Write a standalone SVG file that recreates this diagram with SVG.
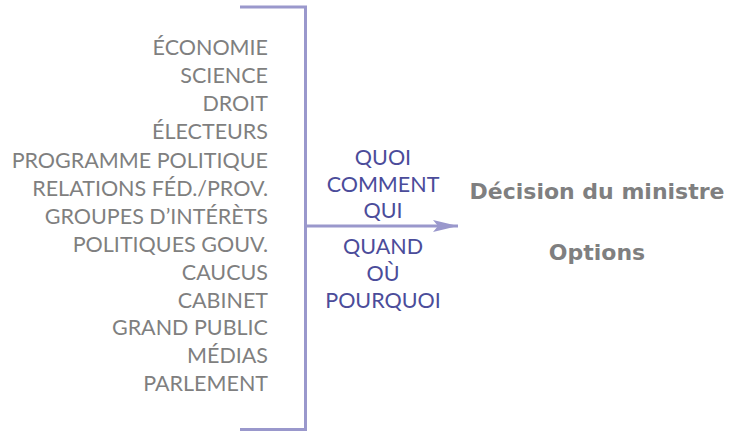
<svg xmlns="http://www.w3.org/2000/svg" width="741" height="432" viewBox="0 0 741 432">
<defs>
<style>
.l{font-family:Lato,"Liberation Sans",sans-serif;font-size:21.5px;fill:#7f7f80;text-anchor:end}
.m{font-family:Lato,"Liberation Sans",sans-serif;font-size:21.5px;fill:#4b4c9a;text-anchor:middle}
.b{font-family:"DejaVu Sans",sans-serif;font-size:22px;font-weight:bold;fill:#7f7f80;text-anchor:middle}
.ln{stroke:#9a98cc;stroke-width:3;fill:none}
</style>
<marker id="ah" markerWidth="26" markerHeight="14" refX="25" refY="7" orient="auto" markerUnits="userSpaceOnUse">
<path d="M0,1 L25,7 L0,13 L5,7 Z" fill="#9a98cc"/>
</marker>
</defs>
<rect width="741" height="432" fill="#fff"/>
<g id="connectors">
<path class="ln" d="M240,7 H305.5 V429.5 H240"/>
<line class="ln" x1="305" y1="226" x2="458" y2="226" marker-end="url(#ah)"/>
</g>
<g id="factors">
<text class="l" x="268" y="55">ÉCONOMIE</text>
<text class="l" x="268" y="83">SCIENCE</text>
<text class="l" x="268" y="111">DROIT</text>
<text class="l" x="268" y="139">ÉLECTEURS</text>
<text class="l" x="268" y="168">PROGRAMME POLITIQUE</text>
<text class="l" x="268" y="196">RELATIONS FÉD./PROV.</text>
<text class="l" x="268" y="224">GROUPES D’INTÉRÈTS</text>
<text class="l" x="268" y="252">POLITIQUES GOUV.</text>
<text class="l" x="268" y="280">CAUCUS</text>
<text class="l" x="268" y="308">CABINET</text>
<text class="l" x="268" y="335">GRAND PUBLIC</text>
<text class="l" x="268" y="363">MÉDIAS</text>
<text class="l" x="268" y="391">PARLEMENT</text>
</g>
<g id="questions">
<text class="m" x="383" y="165">QUOI</text>
<text class="m" x="383" y="192">COMMENT</text>
<text class="m" x="383" y="218">QUI</text>
<text class="m" x="383" y="254">QUAND</text>
<text class="m" x="383" y="281">OÙ</text>
<text class="m" x="383" y="308">POURQUOI</text>
</g>
<g id="decision">
<text class="b" x="597" y="199">Décision du ministre</text>
<text class="b" x="597" y="260">Options</text>
</g>
</svg>
